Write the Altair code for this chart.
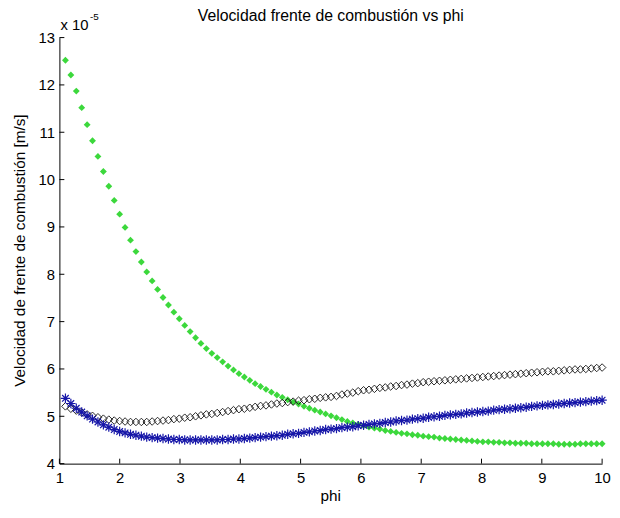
import altair as alt
import pandas as pd

# phi sample grid (100 points)
PHI = [1.100, 1.190, 1.280, 1.370, 1.460, 1.549, 1.639, 1.729, 1.819, 1.909,
       1.999, 2.089, 2.179, 2.269, 2.359, 2.448, 2.538, 2.628, 2.718, 2.808,
       2.898, 2.988, 3.078, 3.168, 3.258, 3.347, 3.437, 3.527, 3.617, 3.707,
       3.797, 3.887, 3.977, 4.067, 4.157, 4.246, 4.336, 4.426, 4.516, 4.606,
       4.696, 4.786, 4.876, 4.966, 5.056, 5.145, 5.235, 5.325, 5.415, 5.505,
       5.595, 5.685, 5.775, 5.865, 5.955, 6.044, 6.134, 6.224, 6.314, 6.404,
       6.494, 6.584, 6.674, 6.764, 6.854, 6.943, 7.033, 7.123, 7.213, 7.303,
       7.393, 7.483, 7.573, 7.663, 7.753, 7.842, 7.932, 8.022, 8.112, 8.202,
       8.292, 8.382, 8.472, 8.562, 8.652, 8.741, 8.831, 8.921, 9.011, 9.101,
       9.191, 9.281, 9.371, 9.461, 9.551, 9.640, 9.730, 9.820, 9.910, 10.000]

# values in units of 1e-5 m/s
GREEN = [12.52, 12.21, 11.87, 11.52, 11.16, 10.82, 10.49, 10.17, 9.86, 9.56,
         9.27, 8.99, 8.72, 8.48, 8.26, 8.05, 7.86, 7.68, 7.51, 7.35,
         7.20, 7.06, 6.92, 6.79, 6.66, 6.54, 6.43, 6.33, 6.24, 6.15,
         6.06, 5.98, 5.90, 5.83, 5.76, 5.69, 5.63, 5.57, 5.51, 5.45,
         5.40, 5.35, 5.30, 5.26, 5.21, 5.17, 5.13, 5.09, 5.05, 5.01,
         4.97, 4.93, 4.89, 4.86, 4.83, 4.80, 4.77, 4.75, 4.73, 4.70,
         4.68, 4.66, 4.64, 4.63, 4.61, 4.60, 4.58, 4.57, 4.56, 4.54,
         4.53, 4.52, 4.51, 4.50, 4.49, 4.48, 4.47, 4.46, 4.46, 4.45,
         4.45, 4.44, 4.44, 4.43, 4.43, 4.43, 4.42, 4.42, 4.42, 4.42,
         4.42, 4.41, 4.41, 4.41, 4.41, 4.42, 4.42, 4.42, 4.42, 4.42]

BLACK = [5.21, 5.16, 5.12, 5.08, 5.04, 5.01, 4.98, 4.95, 4.93, 4.91,
         4.90, 4.89, 4.88, 4.88, 4.88, 4.88, 4.89, 4.90, 4.91, 4.92,
         4.94, 4.95, 4.97, 4.98, 5.00, 5.02, 5.04, 5.05, 5.07, 5.09,
         5.11, 5.13, 5.15, 5.16, 5.18, 5.20, 5.22, 5.23, 5.25, 5.27,
         5.28, 5.30, 5.31, 5.33, 5.34, 5.36, 5.37, 5.39, 5.40, 5.41,
         5.43, 5.46, 5.48, 5.50, 5.53, 5.55, 5.56, 5.58, 5.60, 5.61,
         5.63, 5.64, 5.66, 5.67, 5.69, 5.70, 5.72, 5.73, 5.74, 5.75,
         5.76, 5.77, 5.78, 5.79, 5.80, 5.81, 5.82, 5.83, 5.84, 5.85,
         5.86, 5.87, 5.88, 5.89, 5.90, 5.91, 5.92, 5.93, 5.94, 5.95,
         5.95, 5.96, 5.97, 5.98, 5.99, 5.99, 6.00, 6.01, 6.02, 6.03]

BLUE = [5.38, 5.27, 5.17, 5.09, 5.01, 4.94, 4.88, 4.82, 4.77, 4.72,
        4.68, 4.65, 4.62, 4.60, 4.58, 4.56, 4.55, 4.54, 4.53, 4.52,
        4.51, 4.51, 4.50, 4.50, 4.50, 4.50, 4.50, 4.50, 4.50, 4.51,
        4.51, 4.52, 4.52, 4.53, 4.54, 4.55, 4.56, 4.57, 4.58, 4.59,
        4.60, 4.62, 4.63, 4.64, 4.66, 4.67, 4.69, 4.70, 4.72, 4.73,
        4.74, 4.76, 4.77, 4.78, 4.80, 4.81, 4.83, 4.84, 4.85, 4.87,
        4.88, 4.90, 4.91, 4.92, 4.94, 4.95, 4.96, 4.98, 4.99, 5.00,
        5.02, 5.03, 5.04, 5.05, 5.07, 5.08, 5.09, 5.10, 5.11, 5.13,
        5.14, 5.15, 5.16, 5.17, 5.18, 5.19, 5.21, 5.22, 5.23, 5.24,
        5.25, 5.26, 5.27, 5.28, 5.29, 5.30, 5.31, 5.32, 5.33, 5.34]

X_TICKS = [1, 2, 3, 4, 5, 6, 7, 8, 9, 10]
Y_TICKS = [4, 5, 6, 7, 8, 9, 10, 11, 12, 13]

TITLE = "Velocidad frente de combustión vs phi"
X_TITLE = "phi"
Y_TITLE = "Velocidad de frente de combustión [m/s]"
EXP_BASE = "x 10"
EXP_POWER = "-5"

W, H = 549, 431
FONT = "Liberation Sans"

xs = alt.Scale(domain=[1, 10], nice=False, zero=False)
ys = alt.Scale(domain=[4, 13], nice=False, zero=False)

x_axis = alt.Axis(values=X_TICKS, ticks=False, tickSize=0, grid=False,
                  labelPadding=7, labelFontSize=15, labelFont=FONT,
                  labelColor="black", domainColor="black", domainWidth=1,
                  labelFlush=False, labelOverlap=False, format="d")
y_axis = alt.Axis(values=Y_TICKS, ticks=False, tickSize=0, grid=False,
                  labelPadding=5, labelFontSize=15, labelFont=FONT,
                  labelColor="black", domainColor="black", domainWidth=1,
                  labelFlush=False, labelOverlap=False, format="d")

df_g = pd.DataFrame({"phi": PHI, "v": GREEN})
df_k = pd.DataFrame({"phi": PHI, "v": BLACK})
df_b = pd.DataFrame({"phi": PHI, "v": BLUE})

base_x = alt.X("phi:Q", scale=xs, axis=x_axis, title=None)
base_y = alt.Y("v:Q", scale=ys, axis=y_axis, title=None)

green = alt.Chart(df_g).mark_point(shape="diamond", filled=True, color="#3cd83c",
                                   size=48, opacity=1).encode(x=base_x, y=base_y)
black = alt.Chart(df_k).mark_point(shape="diamond", filled=False, color="#111111",
                                   size=58, strokeWidth=0.9, opacity=1).encode(
    x=alt.X("phi:Q", scale=xs), y=alt.Y("v:Q", scale=ys))
ASTERISK = "M0,-1V1M-1,0H1M-0.7,-0.7L0.7,0.7M-0.7,0.7L0.7,-0.7"
blue = alt.Chart(df_b).mark_point(shape=ASTERISK, filled=False, color="#1616a8",
                                  size=90, strokeWidth=1.2, opacity=1).encode(
    x=alt.X("phi:Q", scale=xs), y=alt.Y("v:Q", scale=ys))

# inward MATLAB-style ticks
xt = alt.Chart(pd.DataFrame({"t": X_TICKS})).mark_rule(color="black", strokeWidth=1).encode(
    x=alt.X("t:Q", scale=xs), y=alt.value(H), y2=alt.value(H - 5))
yt = alt.Chart(pd.DataFrame({"t": Y_TICKS})).mark_rule(color="black", strokeWidth=1).encode(
    y=alt.Y("t:Q", scale=ys), x=alt.value(0), x2=alt.value(5))

def label(text, x, y, size, angle=0, align="center", baseline="alphabetic"):
    return alt.Chart(pd.DataFrame({"s": [text]})).mark_text(
        font=FONT, fontSize=size, color="black", align=align, baseline=baseline,
        angle=angle).encode(text="s:N", x=alt.value(x), y=alt.value(y))

title = label(TITLE, W / 2, -17, 16)
xtitle = label(X_TITLE, W / 2, 469, 15.5)
ytitle = label(Y_TITLE, -40, H / 2, 15.5, angle=270, baseline="middle")
exp1 = label(EXP_BASE, 1, -8, 15, align="left")
exp2 = label(EXP_POWER, 31, -18, 10, align="left")

chart = alt.layer(green, black, blue, xt, yt, title, xtitle, ytitle, exp1, exp2).properties(
    width=W, height=H,
    autosize=alt.AutoSizeParams(type="none"),
    padding={"left": 52, "top": 27, "right": 10, "bottom": 45},
).configure(background="white").configure_view(stroke="transparent", strokeWidth=0)

chart.save("out.html", embed_options={"renderer": "svg", "actions": False})
